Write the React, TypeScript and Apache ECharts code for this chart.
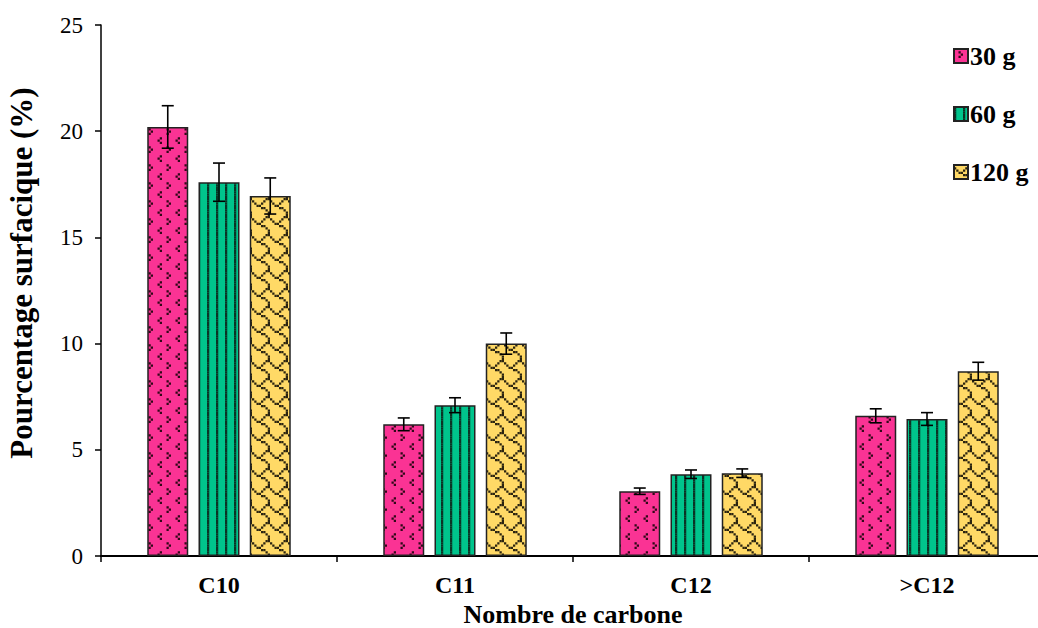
import React, { useEffect, useRef } from "react";
import * as echarts from "echarts";

const categories = ["C10", "C11", "C12", ">C12"];
const seriesNames = ["30 g", "60 g", "120 g"];
const values30 = [20.2, 6.2, 3.05, 6.6];
const values60 = [17.6, 7.1, 3.85, 6.45];
const values120 = [16.95, 10.0, 3.9, 8.7];
const err30 = [1.0, 0.3, 0.15, 0.33];
const err60 = [0.9, 0.35, 0.2, 0.3];
const err120 = [0.85, 0.5, 0.2, 0.42];
const yTicks = [0, 5, 10, 15, 20, 25];

const FONT = "'Liberation Serif', 'Times New Roman', serif";

// 8x8 bitmaps (Excel-like preset patterns), scaled
const DIVOT = [0x00, 0x20, 0x10, 0x20, 0x00, 0x01, 0x02, 0x01];
const SHINGLE = [0x03, 0x84, 0x48, 0x30, 0x0c, 0x02, 0x01, 0x01];
const NARROW_VERT = [0x88, 0x88, 0x88, 0x88, 0x88, 0x88, 0x88, 0x88];

function makeBitmap(bits: number[], bg: string, fg: string, cell: number): HTMLCanvasElement {
  const size = Math.round(8 * cell);
  const c = document.createElement("canvas");
  c.width = size;
  c.height = size;
  const g = c.getContext("2d")!;
  g.fillStyle = bg;
  g.fillRect(0, 0, size, size);
  g.fillStyle = fg;
  for (let r = 0; r < 8; r++) {
    for (let k = 0; k < 8; k++) {
      if (bits[r] & (0x80 >> k)) {
        g.fillRect(k * cell, r * cell, cell, cell);
      }
    }
  }
  return c;
}

export default function App() {
  const ref = useRef<HTMLDivElement>(null);
  useEffect(() => {
    if (!ref.current) return;
    const chart = echarts.init(ref.current, null, { renderer: "svg" });
    const pats = [
      makeBitmap(DIVOT, "#FA3394", "#300818", 2.25),
      makeBitmap(NARROW_VERT, "#00C48C", "#0b3325", 2.25),
      makeBitmap(SHINGLE, "#FFD966", "#2b2410", 2.25),
    ];
    const vals = [values30, values60, values120];
    const errs = [err30, err60, err120];
    const barWidth = 41;
    const step = 51.25;

    const barSeries = seriesNames.map((name, i) => ({
      name,
      type: "bar",
      data: vals[i],
      barWidth,
      barGap: "25%",
      itemStyle: {
        color: {
          image: pats[i],
          repeat: "repeat",
          imageWidth: pats[i].width,
          imageHeight: pats[i].height,
        },
        borderColor: "#222",
        borderWidth: 1.5,
      },
    }));

    const errSeries = seriesNames.map((name, i) => ({
      name: name + " err",
      type: "custom",
      z: 10,
      data: vals[i].map((v, k) => [k, v, errs[i][k]]),
      renderItem: (params: any, api: any) => {
        const x = api.value(0);
        const v = api.value(1);
        const e = api.value(2);
        const top = api.coord([x, v + e]);
        const bot = api.coord([x, v - e]);
        const cx = top[0] + (i - 1) * step;
        const hw = 6;
        const st = { stroke: "#000", lineWidth: 1.6 };
        return {
          type: "group",
          children: [
            { type: "line", shape: { x1: cx, y1: top[1], x2: cx, y2: bot[1] }, style: st },
            { type: "line", shape: { x1: cx - hw, y1: top[1], x2: cx + hw, y2: top[1] }, style: st },
            { type: "line", shape: { x1: cx - hw, y1: bot[1], x2: cx + hw, y2: bot[1] }, style: st },
          ],
        };
      },
    }));

    chart.setOption({
      animation: false,
      backgroundColor: "#fff",
      textStyle: { fontFamily: FONT },
      grid: {
        left: 101,
        right: -7,
        top: 25,
        bottom: 72,
        containLabel: false,
        outerBoundsMode: "none",
      },
      legend: {
        data: seriesNames,
        orient: "vertical",
        left: 948,
        top: 38,
        itemWidth: 14,
        itemHeight: 14,
        itemGap: 32,
        icon: "rect",
        textStyle: {
          fontFamily: FONT,
          fontWeight: "bold",
          fontSize: 26,
          color: "#000",
          lineHeight: 22,
          padding: [0, 0, 0, -3],
        },
      },
      xAxis: {
        type: "category",
        data: categories,
        axisLine: { lineStyle: { color: "#000", width: 2 } },
        axisTick: { show: true, length: 6, lineStyle: { color: "#000", width: 1.5 } },
        axisLabel: {
          margin: 17,
          fontFamily: FONT,
          fontSize: 24,
          fontWeight: "bold",
          color: "#000",
        },
        name: "Nombre de carbone",
        nameLocation: "middle",
        nameGap: 46,
        nameTextStyle: {
          fontFamily: FONT,
          fontSize: 26,
          fontWeight: "bold",
          color: "#000",
          lineHeight: 24,
        },
      },
      yAxis: {
        type: "value",
        min: yTicks[0],
        max: yTicks[yTicks.length - 1],
        interval: 5,
        splitLine: { show: false },
        axisLine: { show: true, lineStyle: { color: "#000", width: 1.5 } },
        axisTick: { show: true, length: 6, lineStyle: { color: "#000", width: 1.5 } },
        axisLabel: { margin: 18, fontFamily: FONT, fontSize: 23, color: "#000" },
        name: "Pourcentage surfacique (%)",
        nameLocation: "middle",
        nameGap: 64,
        nameTextStyle: {
          fontFamily: FONT,
          fontSize: 31,
          fontWeight: "bold",
          color: "#000",
          padding: [0, 0, 0, 35],
        },
      },
      series: [...barSeries, ...errSeries],
    });
    return () => chart.dispose();
  }, []);
  return (
    <div
      ref={ref}
      style={{ position: "absolute", left: 0, top: 0, width: 1038, height: 628 }}
    />
  );
}
